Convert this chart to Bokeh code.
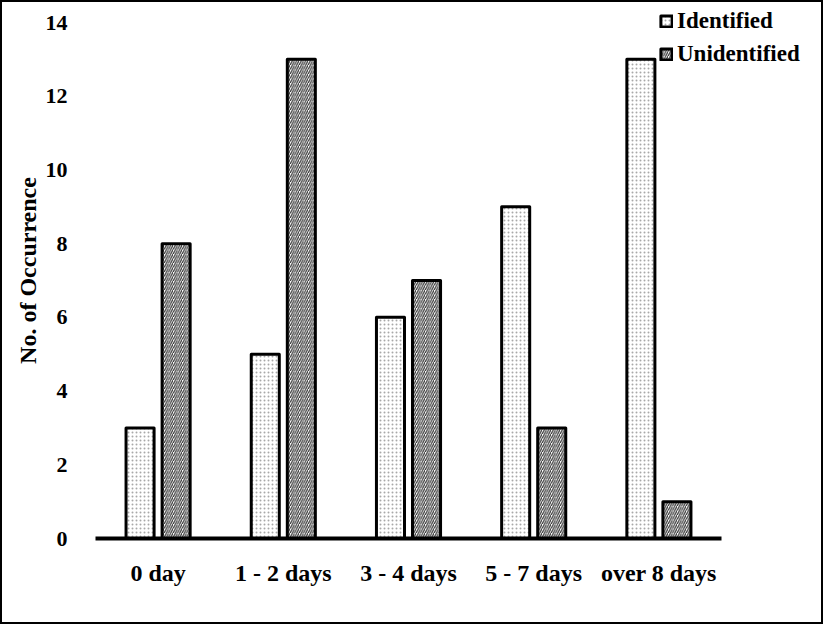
import numpy as np
from bokeh.plotting import figure
from bokeh.models import ColumnDataSource, Range1d, FixedTicker, Legend, LegendItem
from bokeh.transform import dodge
from bokeh.embed import file_html
from bokeh.resources import INLINE

categories = ["0 day", "1 - 2 days", "3 - 4 days", "5 - 7 days", "over 8 days"]
identified = [3, 5, 6, 9, 13]
unidentified = [8, 13, 7, 3, 1]
y_ticks = [0, 2, 4, 6, 8, 10, 12, 14]

FONT = "Liberation Serif"

pos = np.arange(len(categories)) + 0.5
src = ColumnDataSource(dict(pos=pos, ident=identified, unident=unidentified))

# frame: canvas x 93..823 (5 categories = 626 px), y 0..536 (0..14 = 516 px)
x_end = len(categories) * 730 / 626
y_end = 14 * 536 / 516

p = figure(width=823, height=624, x_range=Range1d(0, x_end), y_range=Range1d(0, y_end),
           output_backend="svg", toolbar_location=None,
           min_border_left=93, min_border_right=0, min_border_top=0, min_border_bottom=88)
p.styles = {"border": "2px solid black"}

off = 0.144
r1 = p.vbar(x=dodge("pos", -off), top="ident", width=0.224, bottom=0, source=src,
            fill_color="white", line_color="black", line_width=3, line_join="round",
            hatch_pattern="dot", hatch_scale=4, hatch_weight=1, hatch_color="#a8a8a8")
r2 = p.vbar(x=dodge("pos", off), top="unident", width=0.224, bottom=0, source=src,
            fill_color="white", line_color="black", line_width=3, line_join="round",
            hatch_pattern="right_diagonal_line", hatch_scale=4.5, hatch_weight=1.2, hatch_color="#333333")

p.outline_line_color = None
p.grid.visible = False

p.xaxis.ticker = FixedTicker(ticks=list(pos))
p.xaxis.major_label_overrides = {float(v): c for v, c in zip(pos, categories)}
p.xaxis.bounds = (0, len(categories))
p.xaxis.axis_line_color = "black"
p.xaxis.axis_line_width = 4
p.xaxis.major_tick_line_color = None
p.xaxis.minor_tick_line_color = None
p.xaxis.major_label_standoff = 15
p.xaxis.major_label_text_font = FONT
p.xaxis.major_label_text_font_style = "bold"
p.xaxis.major_label_text_font_size = "24px"
p.xaxis.major_label_text_color = "black"

p.yaxis.ticker = FixedTicker(ticks=y_ticks)
p.yaxis.axis_line_color = None
p.yaxis.major_tick_line_color = None
p.yaxis.minor_tick_line_color = None
p.yaxis.major_label_standoff = 22
p.yaxis.major_label_text_font = FONT
p.yaxis.major_label_text_font_style = "bold"
p.yaxis.major_label_text_font_size = "22px"
p.yaxis.major_label_text_color = "black"
p.yaxis.axis_label = "No. of Occurrence"
p.yaxis.axis_label_text_font = FONT
p.yaxis.axis_label_text_font_style = "bold"
p.yaxis.axis_label_text_font_size = "24px"
p.yaxis.axis_label_text_color = "black"
p.yaxis.axis_label_standoff = 2

legend = Legend(items=[LegendItem(label="Identified", renderers=[r1]),
                       LegendItem(label="Unidentified", renderers=[r2])],
                location=(564, 471), glyph_width=14, glyph_height=14, label_standoff=4,
                spacing=7, padding=0, margin=0, label_height=24,
                label_text_font=FONT, label_text_font_style="bold", label_text_font_size="23px",
                label_text_color="black", background_fill_alpha=0, border_line_color=None)
p.add_layout(legend, "center")

open("out.html", "w").write(file_html(p, INLINE))
